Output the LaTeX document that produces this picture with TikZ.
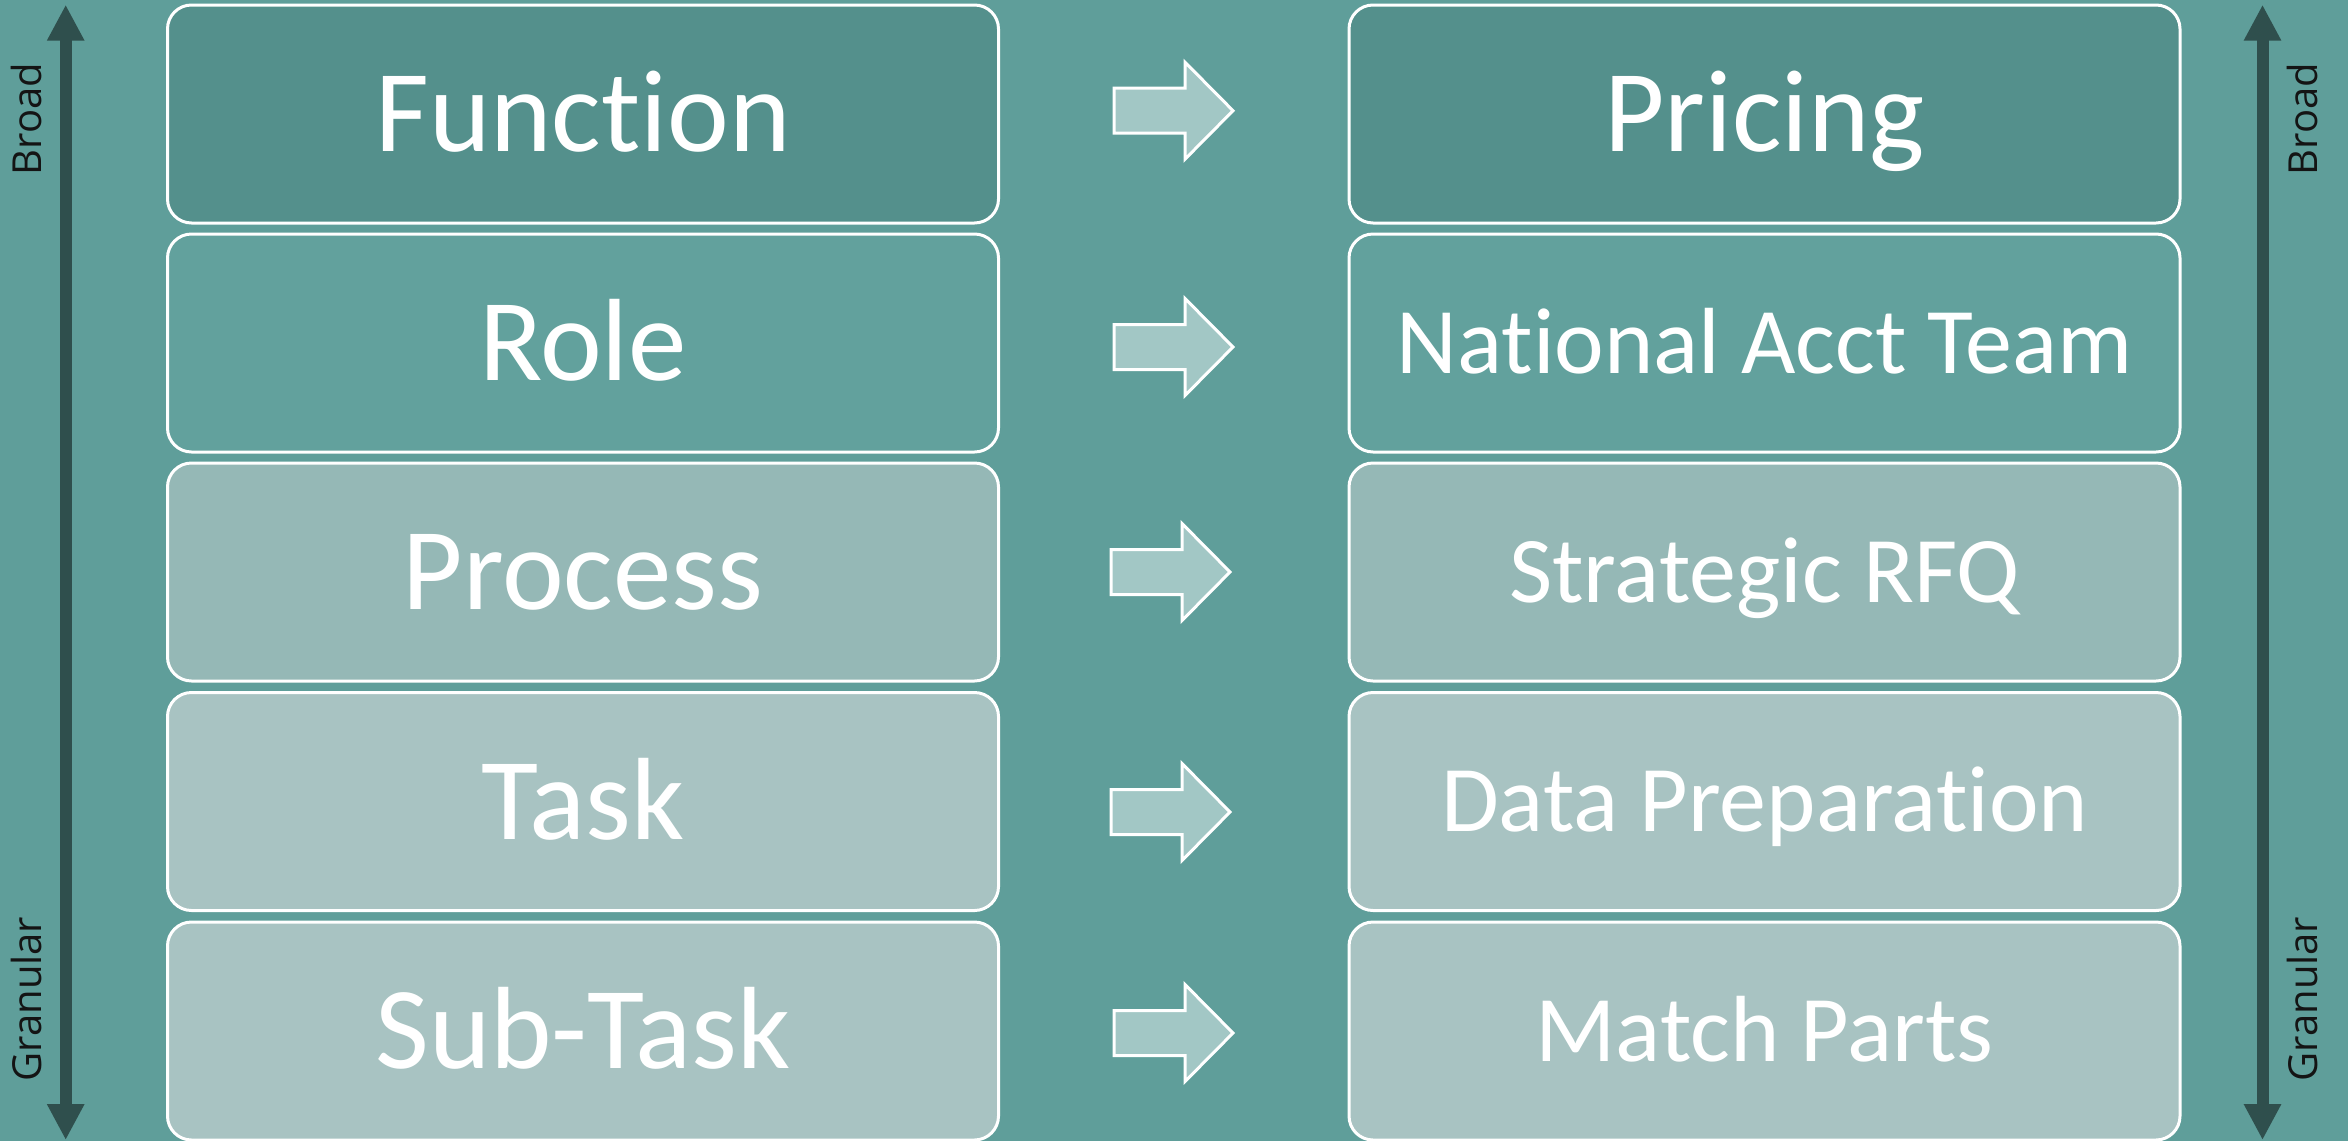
\documentclass[tikz,border=0pt]{standalone}
\usepackage{fontspec}
\setmainfont{Carlito}[Ligatures=NoCommon]
\newfontfamily\sidefont{Open Sans}
\usetikzlibrary{arrows.meta}
% keeps "t" and "i" as separate glyphs
\newcommand\nolig{\kern0pt\relax}

\definecolor{bgteal}{RGB}{95,158,154}
\definecolor{lvlA}{RGB}{84,144,140}
\definecolor{lvlB}{RGB}{98,161,157}
\definecolor{lvlC}{RGB}{149,184,182}
\definecolor{lvlD}{RGB}{168,195,194}
\definecolor{arrowfill}{RGB}{162,199,197}
\definecolor{scaledark}{RGB}{47,79,77}
\definecolor{sideink}{RGB}{20,20,20}

\tikzset{
  levelbox/.style={draw=white, line width=1.5pt, rounded corners=12pt,
    minimum width=415.5pt, minimum height=109pt, inner sep=0pt,
    text=white, text depth=0pt},
  bigtext/.style={font=\fontsize{58.5}{60}\selectfont, text height=37.7pt},
  smalltext/.style={font=\fontsize{47}{48}\selectfont, text height=30.3pt},
  sidelabel/.style={font=\sidefont\fontsize{20}{22}\selectfont, text=sideink,
    rotate=90, inner sep=0pt, text height=14.3pt, text depth=0pt},
  scalearrow/.style={draw=scaledark, line width=6pt,
    {Triangle[width=17.5pt,length=18pt]}-{Triangle[width=17.5pt,length=18pt]}},
  blockarrow/.pic={
    \draw[draw=white, line width=1.5pt, fill=arrowfill, line join=miter]
      (0,-22.5) -- (71,-22.5) -- (71,-48.5) -- (119,0) -- (71,48.5)
      -- (71,22.5) -- (0,22.5) -- cycle;
  }
}

\begin{document}
\begin{tikzpicture}[x=0.5pt, y=-0.5pt]
  % canvas
  \fill[bgteal] (0,0) rectangle (2348,1141);
  \useasboundingbox (0,0) rectangle (2348,1141);

  % left column: levels of the hierarchy
  \node[levelbox, bigtext, fill=lvlA] (function) at (583,114)  {Funct\nolig ion};
  \node[levelbox, bigtext, fill=lvlB] (role)     at (583,343)  {Role};
  \node[levelbox, bigtext, fill=lvlC] (process)  at (583,572)  {Process};
  \node[levelbox, bigtext, fill=lvlD] (task)     at (583,801.5){Task};
  \node[levelbox, bigtext, fill=lvlD] (subtask)  at (583,1031) {Sub-Task};

  % right column: example for each level
  \node[levelbox, bigtext,   fill=lvlA] (pricing)  at (1764.5,114)  {Pricing};
  \node[levelbox, smalltext, fill=lvlB] (natacct)  at (1764.5,343)  {Nat\nolig ional Acct Team};
  \node[levelbox, smalltext, fill=lvlC] (rfq)      at (1764.5,572)  {Strategic RFQ};
  \node[levelbox, smalltext, fill=lvlD] (dataprep) at (1764.5,801.5){Data Preparat\nolig ion};
  \node[levelbox, smalltext, fill=lvlD] (match)    at (1764.5,1031) {Match Parts};

  % block arrows between the columns
  \pic at (1114,110.7) {blockarrow};
  \pic at (1114,347)   {blockarrow};
  \pic at (1111,572)   {blockarrow};
  \pic at (1111,812)   {blockarrow};
  \pic at (1114,1033)  {blockarrow};

  % broad / granular scales on both sides
  \coordinate (ltop) at (65.7,4.7);
  \coordinate (lbot) at (65.7,1140);
  \coordinate (rtop) at (2262.5,4.7);
  \coordinate (rbot) at (2262.5,1140);
  \draw[scalearrow] (lbot) -- (ltop);
  \draw[scalearrow] (rbot) -- (rtop);

  \node[sidelabel] (lbroad) at (27.5,119)  {Broad};
  \node[sidelabel] (lgran)  at (27.5,999)  {Granular};
  \node[sidelabel] (rbroad) at (2303,119)  {Broad};
  \node[sidelabel] (rgran)  at (2303,999)  {Granular};
\end{tikzpicture}
\end{document}
